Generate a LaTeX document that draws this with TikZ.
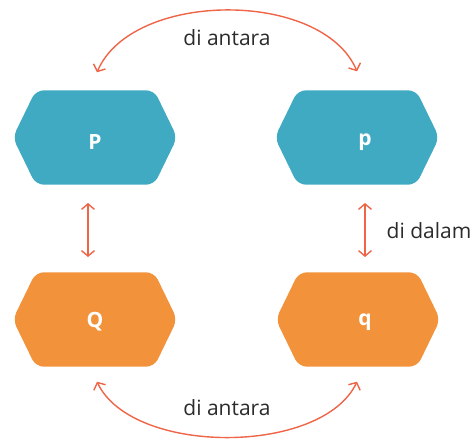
\documentclass[tikz,border=0pt]{standalone}
\usepackage{fontspec}
\setmainfont{Open Sans}
\usetikzlibrary{arrows.meta}
\definecolor{hexteal}{HTML}{41AAC3}
\definecolor{hexorange}{HTML}{F2933B}
\definecolor{arrowred}{HTML}{EE6548}
\definecolor{txtgray}{HTML}{2B2B2B}
\newcommand{\hexfill}[2]{%
  \fill[#2, rounded corners=8pt] (#1.west) -- ([xshift=23pt]#1.north west) -- ([xshift=-23pt]#1.north east)
    -- (#1.east) -- ([xshift=-23pt]#1.south east) -- ([xshift=23pt]#1.south west) -- cycle;}
\tikzset{
  hexbox/.style={rectangle, minimum width=164pt, minimum height=94pt, inner sep=0pt},
  lettr/.style={text=white, font=\bfseries\fontsize{21}{24}\selectfont, inner sep=0pt},
  rel/.style={draw=arrowred, line width=1.4pt, {Straight Barb[length=5.5pt,width=13pt]}-{Straight Barb[length=5.5pt,width=13pt]}},
  lbl/.style={text=txtgray, font=\fontsize{21}{24}\selectfont, inner sep=0pt}
}
\begin{document}
\begin{tikzpicture}[x=1pt,y=-1pt]
\useasboundingbox (0,0) rectangle (473,441);
\node[hexbox] (P) at (95,137.5) {};
\node[hexbox] (p) at (357,137.5) {};
\node[hexbox] (Q) at (95,319.5) {};
\node[hexbox] (q) at (358,319.5) {};
\hexfill{P}{hexteal}
\hexfill{p}{hexteal}
\hexfill{Q}{hexorange}
\hexfill{q}{hexorange}
\node[lettr] (tP) at (95,142) {P};
\node[lettr] (tp) at (365,142) {p};
\node[lettr] (tQ) at (95,322) {Q};
\node[lettr] (tq) at (365,322) {q};
% vertical
\coordinate (a1) at (88,203);
\coordinate (a2) at (88,257);
\coordinate (b1) at (365,203);
\coordinate (b2) at (365,257);
\draw[rel] (a1) -- (a2);
\draw[rel] (b1) -- (b2);
% arcs
\draw[rel] ([xshift=2pt,yshift=18pt]P.north) .. controls +(35,-82) and +(-35,-82) .. ([xshift=0pt,yshift=19pt]p.north);
\draw[rel] ([xshift=2pt,yshift=-15pt]Q.south) .. controls +(35,74) and +(-35,74) .. ([xshift=-1pt,yshift=-15pt]q.south);
\node[lbl] (top) at (227,38) {di antara};
\node[lbl] (bot) at (227,408) {di antara};
\node[lbl] (in) at (429,231) {di dalam};
\end{tikzpicture}
\end{document}
